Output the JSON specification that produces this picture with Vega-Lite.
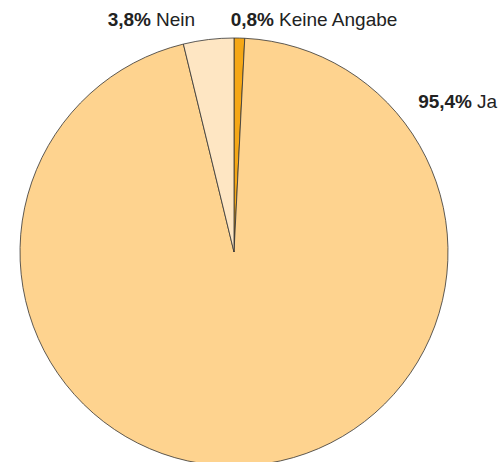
{
  "$schema": "https://vega.github.io/schema/vega-lite/v6.json",
  "width": 468,
  "height": 504,
  "autosize": {"type": "none"},
  "padding": {"left": 0, "top": 0, "right": 30, "bottom": 0},
  "background": "white",
  "view": {"stroke": null},
  "config": {"text": {"font": "Liberation Sans", "fontSize": 19, "color": "#222222", "baseline": "alphabetic"}},
  "data": {
    "values": [
      {"category": "Keine Angabe", "value": 0.8, "order": 1, "pct": "0,8%"},
      {"category": "Ja", "value": 95.4, "order": 2, "pct": "95,4%"},
      {"category": "Nein", "value": 3.8, "order": 3, "pct": "3,8%"}
    ]
  },
  "layer": [
    {
      "mark": {"type": "arc", "radius": 214, "stroke": "#333333", "strokeWidth": 0.8},
      "encoding": {
        "theta": {"field": "value", "type": "quantitative", "stack": true},
        "order": {"field": "order", "type": "quantitative"},
        "color": {
          "field": "category",
          "type": "nominal",
          "scale": {"domain": ["Keine Angabe", "Ja", "Nein"], "range": ["#F5A716", "#FED38F", "#FEE6C3"]},
          "legend": null
        }
      }
    },
    {
      "transform": [{"filter": "datum.category === 'Nein'"}],
      "mark": {"type": "text", "align": "right", "fontWeight": "bold", "dx": -83, "dy": -226},
      "encoding": {"text": {"field": "pct"}}
    },
    {
      "transform": [{"filter": "datum.category === 'Nein'"}],
      "mark": {"type": "text", "align": "left", "dx": -78, "dy": -226},
      "encoding": {"text": {"field": "category"}}
    },
    {
      "transform": [{"filter": "datum.category === 'Keine Angabe'"}],
      "mark": {"type": "text", "align": "right", "fontWeight": "bold", "dx": 40, "dy": -226},
      "encoding": {"text": {"field": "pct"}}
    },
    {
      "transform": [{"filter": "datum.category === 'Keine Angabe'"}],
      "mark": {"type": "text", "align": "left", "dx": 45, "dy": -226},
      "encoding": {"text": {"field": "category"}}
    },
    {
      "transform": [{"filter": "datum.category === 'Ja'"}],
      "mark": {"type": "text", "align": "right", "fontWeight": "bold", "dx": 238, "dy": -144},
      "encoding": {"text": {"field": "pct"}}
    },
    {
      "transform": [{"filter": "datum.category === 'Ja'"}],
      "mark": {"type": "text", "align": "left", "dx": 243, "dy": -144},
      "encoding": {"text": {"field": "category"}}
    }
  ]
}
